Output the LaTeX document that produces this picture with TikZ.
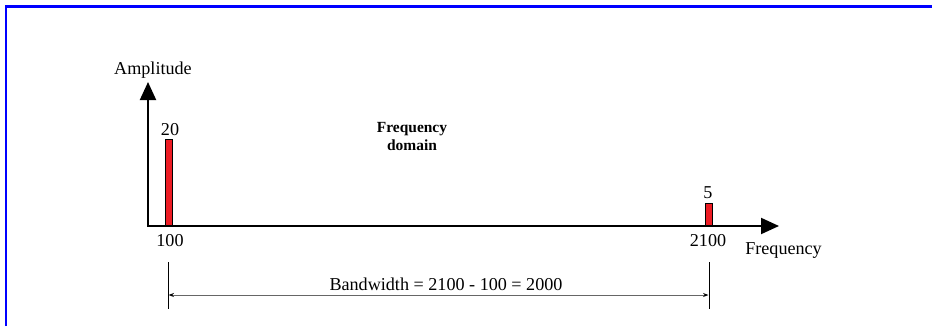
\documentclass[tikz,border=0pt]{standalone}
\usepackage{fontspec}
\setmainfont{Liberation Serif}
\usetikzlibrary{arrows.meta}
\definecolor{barred}{HTML}{ED1C24}
\definecolor{frameblue}{HTML}{0000FF}
\begin{document}
\begin{tikzpicture}[x=0.75pt,y=-0.75pt,
  lbl/.style={inner sep=0pt, font=\fontsize{13.6}{16}\selectfont},
  title/.style={inner sep=0pt, align=center, font=\fontsize{11.6}{13.5}\selectfont\bfseries},
  axis/.style={line width=1.5pt, -{Triangle[length=13.5pt,width=12pt]}},
  bar/.style={draw=black, line width=0.4pt, fill=barred, minimum width=5.25pt, inner sep=0pt, anchor=south},
  tick/.style={line width=0.75pt, black},
  dim/.style={line width=0.6pt, black!60, {Stealth[length=4pt,width=3pt,black]}-{Stealth[length=4pt,width=3pt,black]}},
  frame/.style={line width=1.6pt, frameblue}]
\useasboundingbox (0,0) rectangle (932,326);
% frame (top and left edges)
\coordinate (fbl) at (6,326);
\coordinate (ftl) at (6,6.5);
\coordinate (ftr) at (932,6.5);
\draw[frame] (fbl) -- (ftl) -- (ftr);
% axes
\coordinate (origin) at (148,226);
\coordinate (ytip) at (148,82);
\coordinate (xtip) at (779,226);
\draw[axis] (origin) -- (ytip);
\draw[axis] ([xshift=-0.75pt]origin) -- (xtip);
% bars
\node[bar, minimum height=64.5pt] (bar1) at (168.5,226) {};
\node[bar, minimum height=16.5pt] (bar2) at (708.5,226) {};
% labels
\node[lbl] (amp) at (153,70) {Amplitude};
\node[lbl] (v20) at (170,130) {20};
\node[lbl] (v5) at (708,193) {5};
\node[lbl] (f100) at (170,241) {100};
\node[lbl] (f2100) at (708,241) {2100};
\node[lbl, anchor=west] (freq) at (745,251) {Frequency};
\node[title] (dom) at (412,137) {Frequency\\domain};
% bandwidth dimension
\coordinate (t1top) at (168,262);
\coordinate (t1bot) at (168,309);
\coordinate (t2top) at (709,262);
\coordinate (t2bot) at (709,309);
\draw[tick] (t1top) -- (t1bot);
\draw[tick] (t2top) -- (t2bot);
\coordinate (bw1) at (168.6,295);
\coordinate (bw2) at (708.4,295);
\draw[dim] (bw1) -- (bw2);
\node[lbl] (bw) at (446,284) {Bandwidth = 2100 - 100 = 2000};
\end{tikzpicture}
\end{document}
